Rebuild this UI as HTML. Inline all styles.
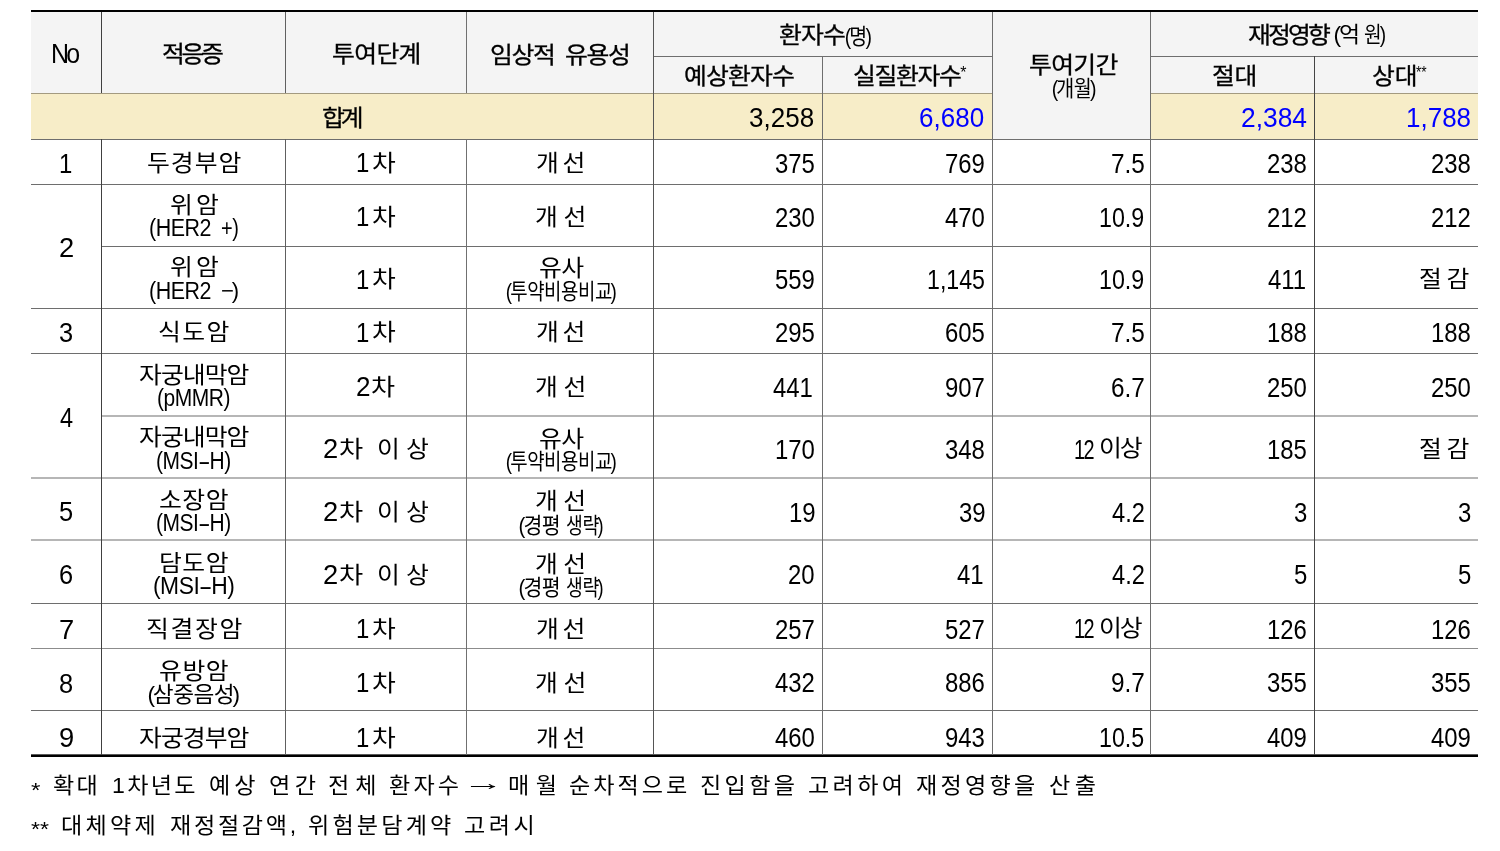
<!DOCTYPE html>
<html lang="ko"><head><meta charset="utf-8"><title>table</title>
<style>
html,body{margin:0;padding:0;background:#fff;}
body{width:1500px;height:851px;position:relative;overflow:hidden;
 font-family:"Liberation Sans","Noto Sans CJK KR",sans-serif;color:#000;}
.bg{position:absolute;}
.hl{position:absolute;height:1px;background:#6e6e6e;}
.vl{position:absolute;width:1px;background:#6e6e6e;}
.x{position:absolute;white-space:pre;line-height:1;transform-origin:0 0;font-weight:400;}
.K{font-size:23px;}
.KH{font-size:23px;-webkit-text-stroke:0.3px #000;}
.S{font-size:21.5px;letter-spacing:-0.5px;}
.SL{font-size:23.5px;letter-spacing:-0.5px;}
.L,.N,.T{font-size:27.5px;}
.S i{font-style:normal;margin:0 -1.5px;}
.SL u{text-decoration:none;display:inline-block;transform:scaleX(1.8);margin:0 2.5px;}
.P{font-size:16px;}
.F{font-size:22px;}
.A{font-size:21px;}
</style></head>
<body>
<div class="bg" style="left:31px;top:12px;width:1447px;height:81px;background:#f4f4f4"></div>
<div class="bg" style="left:31px;top:93px;width:1447px;height:46px;background:#f7edc8"></div>
<div class="bg" style="left:992px;top:12px;width:158px;height:127px;background:#f4f4f4"></div>
<div class="bg" style="left:31px;top:10px;width:1447px;height:2px;background:#000"></div>
<div class="bg" style="left:31px;top:754px;width:1447px;height:1px;background:#5a5a5a"></div>
<div class="bg" style="left:31px;top:755px;width:1447px;height:2px;background:#000"></div>
<div class="hl" style="left:653px;top:56px;width:339px;"></div>
<div class="hl" style="left:1150px;top:56px;width:328px;"></div>
<div class="hl" style="left:31px;top:93px;width:961px;background:#a39a80"></div>
<div class="hl" style="left:1150px;top:93px;width:328px;background:#a39a80"></div>
<div class="hl" style="left:31px;top:139px;width:1447px;"></div>
<div class="hl" style="left:31px;top:184px;width:1447px;"></div>
<div class="hl" style="left:101px;top:246px;width:1377px;"></div>
<div class="hl" style="left:31px;top:308px;width:1447px;"></div>
<div class="hl" style="left:31px;top:353px;width:1447px;"></div>
<div class="hl" style="left:101px;top:415px;width:1377px;height:2px;background:#b6b6b6"></div>
<div class="hl" style="left:31px;top:477px;width:1447px;height:2px;background:#b6b6b6"></div>
<div class="hl" style="left:31px;top:539px;width:1447px;height:2px;background:#b6b6b6"></div>
<div class="hl" style="left:31px;top:603px;width:1447px;"></div>
<div class="hl" style="left:31px;top:648px;width:1447px;background:#8c8c8c"></div>
<div class="hl" style="left:31px;top:710px;width:1447px;"></div>
<div class="vl" style="left:101px;top:12px;height:81px;background:#404040"></div>
<div class="vl" style="left:101px;top:139px;height:616px;background:#404040"></div>
<div class="vl" style="left:285px;top:12px;height:81px;background:#606060"></div>
<div class="vl" style="left:285px;top:139px;height:616px;background:#606060"></div>
<div class="vl" style="left:466px;top:12px;height:81px;background:#707070"></div>
<div class="vl" style="left:466px;top:139px;height:616px;background:#707070"></div>
<div class="vl" style="left:653px;top:12px;height:743px;background:#555"></div>
<div class="vl" style="left:822px;top:56px;height:699px;"></div>
<div class="vl" style="left:992px;top:12px;height:743px;"></div>
<div class="vl" style="left:1150px;top:12px;height:743px;"></div>
<div class="vl" style="left:1314px;top:56px;height:699px;background:#444"></div>
<span class="x L" style="left:50.85px;top:39.95px;letter-spacing:-3px;transform:scaleX(0.9069);">No</span>
<span class="x KH" style="left:161.65px;top:43.00px;letter-spacing:-3.15px;transform:scaleX(1.0800);">적응증</span>
<span class="x KH" style="left:331.50px;top:43.00px;letter-spacing:-0.60px;transform:scaleX(1.0800);">투여단계</span>
<span class="x KH" style="left:489.86px;top:43.80px;letter-spacing:-1.26px;transform:scaleX(1.0800);">임상적</span>
<span class="x KH" style="left:565.26px;top:43.80px;letter-spacing:-1.26px;transform:scaleX(1.0800);">유용성</span>
<span class="x KH" style="left:779.11px;top:24.40px;letter-spacing:-0.81px;transform:scaleX(1.0800);">환자수</span><span class="x S" style="left:845.67px;top:26.55px;transform:scaleX(0.9040);"><i>(</i>명<i>)</i></span>
<span class="x KH" style="left:683.63px;top:65.00px;letter-spacing:-0.77px;transform:scaleX(1.0800);">예상환자수</span>
<span class="x KH" style="left:852.73px;top:65.00px;letter-spacing:-1.24px;transform:scaleX(1.0800);">실질환자수</span><span class="x P" style="left:960.35px;top:65.00px;">*</span>
<span class="x KH" style="left:1028.89px;top:54.00px;letter-spacing:-0.66px;transform:scaleX(1.0800);">투여기간</span>
<span class="x S" style="left:1052.75px;top:78.55px;transform:scaleX(0.9088);"><i>(</i>개월<i>)</i></span>
<span class="x KH" style="left:1247.55px;top:24.40px;letter-spacing:-2.67px;transform:scaleX(1.0800);">재정영향</span>
<span class="x S" style="left:1335.25px;top:25.15px;transform:scaleX(1.0648);"><i>(</i>억</span>
<span class="x S" style="left:1363.84px;top:25.15px;transform:scaleX(0.8883);">원<i>)</i></span>
<span class="x KH" style="left:1211.98px;top:65.00px;letter-spacing:-0.27px;transform:scaleX(1.0800);">절대</span>
<span class="x KH" style="left:1371.80px;top:65.20px;transform:scaleX(1.0800);">상대</span><span class="x P" style="left:1415.90px;top:65.00px;transform:scaleX(0.8610);">**</span>
<span class="x KH" style="left:321.79px;top:106.80px;letter-spacing:-3.78px;transform:scaleX(1.0800);">합계</span>
<span class="x T" style="left:748.80px;top:104.25px;transform:scaleX(0.9463);">3,258</span>
<span class="x T" style="left:918.80px;top:104.25px;transform:scaleX(0.9463);color:#0000ff;">6,680</span>
<span class="x T" style="left:1240.85px;top:104.25px;transform:scaleX(0.9597);color:#0000ff;">2,384</span>
<span class="x T" style="left:1405.80px;top:104.25px;transform:scaleX(0.9455);color:#0000ff;">1,788</span>
<span class="x N" style="left:58.50px;top:149.75px;transform:scaleX(0.8700);">1</span>
<span class="x K" style="left:147.15px;top:151.50px;letter-spacing:0.90px;transform:scaleX(1.0800);">두경부암</span>
<span class="x N" style="left:356.40px;top:149.45px;transform:scaleX(0.8700);">1</span><span class="x K" style="left:371.64px;top:151.50px;transform:scaleX(1.1235);">차</span>
<span class="x K" style="left:536.19px;top:151.50px;letter-spacing:3.42px;transform:scaleX(1.0800);">개선</span>
<span class="x N" style="left:774.60px;top:149.75px;transform:scaleX(0.8700);">375</span>
<span class="x N" style="left:945.00px;top:149.75px;transform:scaleX(0.8700);">769</span>
<span class="x N" style="left:1110.63px;top:149.75px;transform:scaleX(0.8857);">7.5</span>
<span class="x N" style="left:1267.20px;top:149.75px;transform:scaleX(0.8700);">238</span>
<span class="x N" style="left:1431.00px;top:149.75px;transform:scaleX(0.8700);">238</span>
<span class="x N" style="left:59.08px;top:234.15px;transform:scaleX(0.9940);">2</span>
<span class="x K" style="left:169.56px;top:193.60px;letter-spacing:2.88px;transform:scaleX(1.0800);">위암</span>
<span class="x SL" style="left:149.22px;top:216.65px;transform:scaleX(0.9122);">(HER2</span>
<span class="x SL" style="left:221.00px;top:216.65px;transform:scaleX(0.8500);">+)</span>
<span class="x N" style="left:356.40px;top:203.30px;transform:scaleX(0.8700);">1</span><span class="x K" style="left:371.64px;top:205.50px;transform:scaleX(1.1235);">차</span>
<span class="x K" style="left:535.29px;top:205.50px;letter-spacing:5.22px;transform:scaleX(1.0800);">개선</span>
<span class="x N" style="left:774.60px;top:203.80px;transform:scaleX(0.8700);">230</span>
<span class="x N" style="left:945.00px;top:203.80px;transform:scaleX(0.8700);">470</span>
<span class="x N" style="left:1098.53px;top:203.80px;transform:scaleX(0.8447);">10.9</span>
<span class="x N" style="left:1267.20px;top:203.80px;transform:scaleX(0.8700);">212</span>
<span class="x N" style="left:1431.00px;top:203.80px;transform:scaleX(0.8700);">212</span>
<span class="x K" style="left:169.56px;top:255.70px;letter-spacing:2.88px;transform:scaleX(1.0800);">위암</span>
<span class="x SL" style="left:149.22px;top:279.75px;transform:scaleX(0.9122);">(HER2</span>
<span class="x S" style="left:221.15px;top:280.75px;transform:scaleX(1.0265);">−<i>)</i></span>
<span class="x N" style="left:356.40px;top:265.75px;transform:scaleX(0.8700);">1</span><span class="x K" style="left:371.64px;top:267.50px;transform:scaleX(1.1235);">차</span>
<span class="x K" style="left:538.77px;top:257.00px;letter-spacing:-0.54px;transform:scaleX(1.0800);">유사</span>
<span class="x S" style="left:507.19px;top:281.75px;transform:scaleX(0.8786);"><i>(</i>투약비용비교<i>)</i></span>
<span class="x N" style="left:774.60px;top:266.25px;transform:scaleX(0.8700);">559</span>
<span class="x N" style="left:926.90px;top:266.45px;transform:scaleX(0.8427);">1,145</span>
<span class="x N" style="left:1098.53px;top:266.25px;transform:scaleX(0.8447);">10.9</span>
<span class="x N" style="left:1268.20px;top:266.25px;transform:scaleX(0.8700);">411</span>
<span class="x K" style="left:1418.84px;top:268.00px;letter-spacing:4.32px;transform:scaleX(1.0800);">절감</span>
<span class="x N" style="left:59.03px;top:318.95px;transform:scaleX(0.9249);">3</span>
<span class="x K" style="left:158.15px;top:321.30px;letter-spacing:1.35px;transform:scaleX(1.0800);">식도암</span>
<span class="x N" style="left:356.40px;top:318.65px;transform:scaleX(0.8700);">1</span><span class="x K" style="left:371.64px;top:321.30px;transform:scaleX(1.1235);">차</span>
<span class="x K" style="left:536.19px;top:321.30px;letter-spacing:3.42px;transform:scaleX(1.0800);">개선</span>
<span class="x N" style="left:774.60px;top:318.95px;transform:scaleX(0.8700);">295</span>
<span class="x N" style="left:945.00px;top:318.95px;transform:scaleX(0.8700);">605</span>
<span class="x N" style="left:1110.63px;top:318.95px;transform:scaleX(0.8857);">7.5</span>
<span class="x N" style="left:1267.20px;top:318.95px;transform:scaleX(0.8700);">188</span>
<span class="x N" style="left:1431.00px;top:318.95px;transform:scaleX(0.8700);">188</span>
<span class="x N" style="left:59.98px;top:404.15px;transform:scaleX(0.8547);">4</span>
<span class="x K" style="left:138.80px;top:364.10px;letter-spacing:-0.90px;transform:scaleX(1.0800);">자궁내막암</span>
<span class="x SL" style="left:157.19px;top:387.45px;transform:scaleX(0.8932);">(pMMR)</span>
<span class="x N" style="left:356.04px;top:373.45px;transform:scaleX(0.9492);">2</span><span class="x K" style="left:371.25px;top:376.00px;transform:scaleX(1.1363);">차</span>
<span class="x K" style="left:535.29px;top:376.00px;letter-spacing:5.22px;transform:scaleX(1.0800);">개선</span>
<span class="x N" style="left:772.60px;top:373.95px;transform:scaleX(0.8700);">441</span>
<span class="x N" style="left:945.00px;top:373.95px;transform:scaleX(0.8700);">907</span>
<span class="x N" style="left:1110.63px;top:373.95px;transform:scaleX(0.8857);">6.7</span>
<span class="x N" style="left:1267.20px;top:373.95px;transform:scaleX(0.8700);">250</span>
<span class="x N" style="left:1431.00px;top:373.95px;transform:scaleX(0.8700);">250</span>
<span class="x K" style="left:138.80px;top:425.70px;letter-spacing:-0.90px;transform:scaleX(1.0800);">자궁내막암</span>
<span class="x SL" style="left:156.16px;top:449.85px;transform:scaleX(0.8923);">(MSI<u>-</u>H)</span>
<span class="x N" style="left:323.07px;top:435.05px;transform:scaleX(0.9940);">2</span><span class="x K" style="left:338.66px;top:437.60px;transform:scaleX(1.1422);">차</span>
<span class="x K" style="left:377.32px;top:437.60px;letter-spacing:5.76px;transform:scaleX(1.0800);">이상</span>
<span class="x K" style="left:538.77px;top:428.20px;letter-spacing:-0.54px;transform:scaleX(1.0800);">유사</span>
<span class="x S" style="left:507.19px;top:451.75px;transform:scaleX(0.8786);"><i>(</i>투약비용비교<i>)</i></span>
<span class="x N" style="left:774.60px;top:435.55px;transform:scaleX(0.8700);">170</span>
<span class="x N" style="left:945.00px;top:435.55px;transform:scaleX(0.8700);">348</span>
<span class="x N" style="left:1073.59px;top:435.65px;letter-spacing:-2px;transform:scaleX(0.7233);">12</span> <span class="x K" style="left:1099.40px;top:437.20px;letter-spacing:-2px;transform:scaleX(1.0806);">이상</span>
<span class="x N" style="left:1267.20px;top:435.55px;transform:scaleX(0.8700);">185</span>
<span class="x K" style="left:1418.84px;top:438.10px;letter-spacing:4.32px;transform:scaleX(1.0800);">절감</span>
<span class="x N" style="left:59.03px;top:498.35px;transform:scaleX(0.9249);">5</span>
<span class="x K" style="left:159.05px;top:488.80px;letter-spacing:0.45px;transform:scaleX(1.0800);">소장암</span>
<span class="x SL" style="left:156.16px;top:512.35px;transform:scaleX(0.8923);">(MSI<u>-</u>H)</span>
<span class="x N" style="left:323.07px;top:498.25px;transform:scaleX(0.9940);">2</span><span class="x K" style="left:338.66px;top:501.30px;transform:scaleX(1.1422);">차</span>
<span class="x K" style="left:377.32px;top:501.30px;letter-spacing:5.76px;transform:scaleX(1.0800);">이상</span>
<span class="x K" style="left:535.08px;top:490.00px;letter-spacing:5.04px;transform:scaleX(1.0800);">개선</span>
<span class="x S" style="left:520.23px;top:515.75px;transform:scaleX(0.9530);"><i>(</i>경평</span>
<span class="x S" style="left:566.00px;top:515.75px;transform:scaleX(0.8500);">생략<i>)</i></span>
<span class="x N" style="left:788.60px;top:498.75px;transform:scaleX(0.8700);">19</span>
<span class="x N" style="left:959.00px;top:498.75px;transform:scaleX(0.8700);">39</span>
<span class="x N" style="left:1111.58px;top:498.75px;transform:scaleX(0.8607);">4.2</span>
<span class="x N" style="left:1294.20px;top:498.75px;transform:scaleX(0.8700);">3</span>
<span class="x N" style="left:1458.00px;top:498.75px;transform:scaleX(0.8700);">3</span>
<span class="x N" style="left:59.03px;top:560.85px;transform:scaleX(0.9249);">6</span>
<span class="x K" style="left:159.05px;top:551.50px;letter-spacing:0.45px;transform:scaleX(1.0800);">담도암</span>
<span class="x SL" style="left:152.50px;top:575.45px;transform:scaleX(0.9723);">(MSI<u>-</u>H)</span>
<span class="x N" style="left:323.07px;top:560.75px;transform:scaleX(0.9940);">2</span><span class="x K" style="left:338.66px;top:563.80px;transform:scaleX(1.1422);">차</span>
<span class="x K" style="left:377.32px;top:563.80px;letter-spacing:5.76px;transform:scaleX(1.0800);">이상</span>
<span class="x K" style="left:535.08px;top:552.90px;letter-spacing:5.04px;transform:scaleX(1.0800);">개선</span>
<span class="x S" style="left:520.23px;top:578.05px;transform:scaleX(0.9530);"><i>(</i>경평</span>
<span class="x S" style="left:566.00px;top:578.05px;transform:scaleX(0.8500);">생략<i>)</i></span>
<span class="x N" style="left:787.60px;top:561.25px;transform:scaleX(0.8700);">20</span>
<span class="x N" style="left:957.00px;top:561.25px;transform:scaleX(0.8700);">41</span>
<span class="x N" style="left:1111.58px;top:561.25px;transform:scaleX(0.8607);">4.2</span>
<span class="x N" style="left:1294.20px;top:561.25px;transform:scaleX(0.8700);">5</span>
<span class="x N" style="left:1458.00px;top:561.25px;transform:scaleX(0.8700);">5</span>
<span class="x N" style="left:59.08px;top:615.75px;transform:scaleX(0.9940);">7</span>
<span class="x K" style="left:145.66px;top:618.20px;letter-spacing:1.56px;transform:scaleX(1.0800);">직결장암</span>
<span class="x N" style="left:356.40px;top:615.45px;transform:scaleX(0.8700);">1</span><span class="x K" style="left:371.64px;top:618.20px;transform:scaleX(1.1235);">차</span>
<span class="x K" style="left:536.19px;top:618.20px;letter-spacing:3.42px;transform:scaleX(1.0800);">개선</span>
<span class="x N" style="left:774.60px;top:615.75px;transform:scaleX(0.8700);">257</span>
<span class="x N" style="left:945.00px;top:615.75px;transform:scaleX(0.8700);">527</span>
<span class="x N" style="left:1073.59px;top:614.85px;letter-spacing:-2px;transform:scaleX(0.7233);">12</span> <span class="x K" style="left:1099.40px;top:617.30px;letter-spacing:-2px;transform:scaleX(1.0806);">이상</span>
<span class="x N" style="left:1267.20px;top:615.75px;transform:scaleX(0.8700);">126</span>
<span class="x N" style="left:1431.00px;top:615.75px;transform:scaleX(0.8700);">126</span>
<span class="x N" style="left:59.03px;top:670.05px;transform:scaleX(0.9249);">8</span>
<span class="x K" style="left:159.06px;top:659.60px;letter-spacing:0.54px;transform:scaleX(1.0800);">유방암</span>
<span class="x S" style="left:148.96px;top:684.65px;transform:scaleX(1.0543);"><i>(</i>삼중음성<i>)</i></span>
<span class="x N" style="left:356.40px;top:668.95px;transform:scaleX(0.8700);">1</span><span class="x K" style="left:371.64px;top:671.50px;transform:scaleX(1.1235);">차</span>
<span class="x K" style="left:535.29px;top:671.50px;letter-spacing:5.22px;transform:scaleX(1.0800);">개선</span>
<span class="x N" style="left:774.60px;top:669.45px;transform:scaleX(0.8700);">432</span>
<span class="x N" style="left:945.00px;top:669.45px;transform:scaleX(0.8700);">886</span>
<span class="x N" style="left:1110.63px;top:669.45px;transform:scaleX(0.8857);">9.7</span>
<span class="x N" style="left:1267.20px;top:669.45px;transform:scaleX(0.8700);">355</span>
<span class="x N" style="left:1431.00px;top:669.45px;transform:scaleX(0.8700);">355</span>
<span class="x N" style="left:59.08px;top:723.85px;transform:scaleX(0.9940);">9</span>
<span class="x K" style="left:138.80px;top:726.70px;letter-spacing:-0.90px;transform:scaleX(1.0800);">자궁경부암</span>
<span class="x N" style="left:356.40px;top:723.55px;transform:scaleX(0.8700);">1</span><span class="x K" style="left:371.64px;top:726.70px;transform:scaleX(1.1235);">차</span>
<span class="x K" style="left:536.19px;top:726.70px;letter-spacing:3.42px;transform:scaleX(1.0800);">개선</span>
<span class="x N" style="left:774.60px;top:723.85px;transform:scaleX(0.8700);">460</span>
<span class="x N" style="left:945.00px;top:723.85px;transform:scaleX(0.8700);">943</span>
<span class="x N" style="left:1098.53px;top:723.85px;transform:scaleX(0.8452);">10.5</span>
<span class="x N" style="left:1267.20px;top:723.85px;transform:scaleX(0.8700);">409</span>
<span class="x N" style="left:1431.00px;top:723.85px;transform:scaleX(0.8700);">409</span>
<span class="x A" style="left:30.64px;top:779.00px;transform:scaleX(1.1555);">*</span>
<span class="x F" style="left:52.92px;top:775.20px;letter-spacing:2.16px;transform:scaleX(1.0500);">확대</span>
<span class="x F" style="left:112.16px;top:774.70px;letter-spacing:2.19px;transform:scaleX(1.0500);">1차년도</span>
<span class="x F" style="left:209.21px;top:774.70px;letter-spacing:3.78px;transform:scaleX(1.0500);">예상</span>
<span class="x F" style="left:269.44px;top:775.20px;letter-spacing:4.23px;transform:scaleX(1.0500);">연간</span>
<span class="x F" style="left:327.72px;top:774.70px;letter-spacing:5.76px;transform:scaleX(1.0500);">전체</span>
<span class="x F" style="left:388.74px;top:775.20px;letter-spacing:3.01px;transform:scaleX(1.0500);">환자수</span>
<span class="x F" style="left:463.40px;top:771.70px;transform:scaleX(1.8611);">→</span>
<span class="x F" style="left:508.14px;top:774.70px;letter-spacing:6.12px;transform:scaleX(1.0500);">매월</span>
<span class="x F" style="left:568.64px;top:774.70px;letter-spacing:2.88px;transform:scaleX(1.0500);">순차적으로</span>
<span class="x F" style="left:699.73px;top:774.70px;letter-spacing:3.21px;transform:scaleX(1.0500);">진입함을</span>
<span class="x F" style="left:808.33px;top:774.70px;letter-spacing:3.18px;transform:scaleX(1.0500);">고려하여</span>
<span class="x F" style="left:915.89px;top:774.70px;letter-spacing:3.11px;transform:scaleX(1.0500);">재정영향을</span>
<span class="x F" style="left:1048.64px;top:774.70px;letter-spacing:4.32px;transform:scaleX(1.0500);">산출</span>
<span class="x A" style="left:30.67px;top:818.20px;transform:scaleX(1.1010);">**</span>
<span class="x F" style="left:60.52px;top:814.50px;letter-spacing:3.12px;transform:scaleX(1.0500);">대체약제</span>
<span class="x F" style="left:169.51px;top:815.00px;letter-spacing:2.56px;transform:scaleX(1.0500);">재정절감액,</span>
<span class="x F" style="left:308.04px;top:815.00px;letter-spacing:3.02px;transform:scaleX(1.0500);">위험분담계약</span>
<span class="x F" style="left:463.96px;top:814.50px;letter-spacing:3.29px;transform:scaleX(1.0500);">고려시</span>
</body></html>
